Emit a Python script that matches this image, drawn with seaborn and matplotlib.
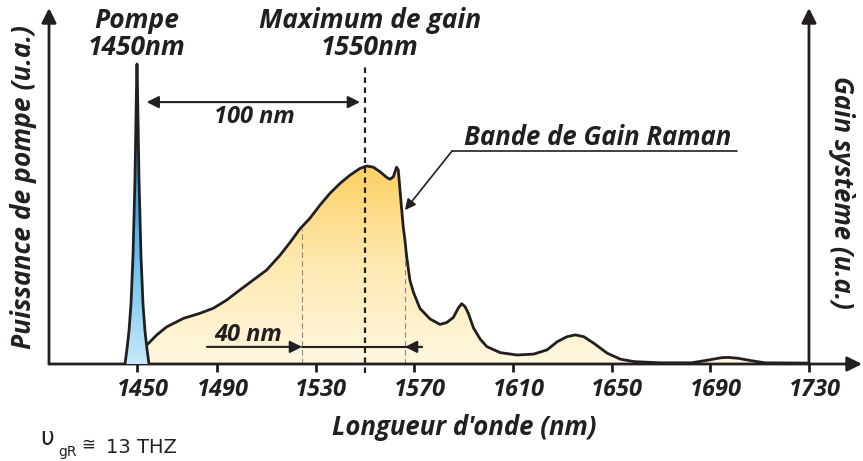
import numpy as np
import matplotlib
matplotlib.use("Agg")
import matplotlib.pyplot as plt
from matplotlib.colors import LinearSegmentedColormap
from matplotlib.transforms import ScaledTranslation
import seaborn as sns

# pump line (wavelength in nm, power in u.a.)
pump_nm = [1444, 1445, 1446, 1447, 1448, 1449, 1449.5, 1449.8, 1450, 1450.2, 1450.5, 1451,
           1452, 1453, 1454, 1455, 1456]
pump_pw = [0.0, 0.05, 0.11, 0.20, 0.36, 0.62, 0.82, 0.94, 1.0, 0.94, 0.82, 0.62,
           0.36, 0.20, 0.11, 0.05, 0.0]

# Raman gain band (wavelength in nm, gain in u.a.)
gain_nm = [1451, 1454, 1459.9, 1464.9, 1473.2, 1481.5, 1488.2, 1493.9, 1499.3, 1504.7,
           1510.1, 1515.5, 1519.6, 1523.6, 1527.7, 1531.8, 1535.8, 1539.9, 1544.0, 1548.0,
           1550.7, 1553.4, 1556.1, 1558.8, 1560.1, 1561.5, 1562.8, 1563.5, 1564.2, 1564.9,
           1565.5, 1566.2, 1566.9, 1568.2, 1569.6, 1572.3, 1576.4, 1580.4, 1583.1, 1585.8,
           1587.8, 1589.2, 1590.6, 1591.9, 1594.0, 1596.7, 1599.4, 1604.8, 1611.6, 1618.4,
           1623.8, 1627.9, 1631.9, 1635.3, 1638.7, 1642.8, 1648.2, 1653.6, 1659.0, 1669.8,
           1682.4, 1689.1, 1694.5, 1697.2, 1701.3, 1706.7, 1712.1, 1729.6]
gain_val = [0.0, 0.057, 0.097, 0.124, 0.152, 0.169, 0.186, 0.213, 0.247, 0.28,
            0.313, 0.362, 0.405, 0.45, 0.486, 0.53, 0.569, 0.602, 0.63, 0.652,
            0.66, 0.656, 0.641, 0.622, 0.616, 0.624, 0.656, 0.647, 0.58, 0.513,
            0.458, 0.413, 0.358, 0.28, 0.24, 0.185, 0.15, 0.132, 0.138, 0.155,
            0.186, 0.201, 0.191, 0.169, 0.12, 0.083, 0.058, 0.038, 0.03, 0.033,
            0.047, 0.074, 0.091, 0.097, 0.091, 0.069, 0.036, 0.016, 0.008, 0.004,
            0.004, 0.013, 0.021, 0.022, 0.019, 0.011, 0.004, 0.003]

tick_nm = [1450, 1490, 1530, 1570, 1610, 1650, 1690, 1730]
tick_labels = ["1450", "1490", "1530", "1570", "1610", "1650", "1690", "1730"]

pump_peak_nm = 1450
gain_peak_nm = 1550
band_edges_nm = [1524.5, 1566.2]

ink = "#231f20"
bold_it = dict(fontweight="bold", style="italic", color=ink)

sns.set_theme(style="white")
plt.rcParams["font.family"] = ["Open Sans", "DejaVu Sans"]

fig = plt.figure(figsize=(8.63, 4.61), dpi=100)
ax = fig.add_axes([49 / 863, 1 - 364 / 461, 813 / 863, 356 / 461])

# the drawing squeezes 1450-1490 a little, like the original schematic
knot_nm = [1300, 1450, 1490, 1900]
knot_u = [-163, 137, 217, 217 + 410 * 2.467]
ax.set_xscale("function", functions=(lambda v: np.interp(v, knot_nm, knot_u),
                                     lambda u: np.interp(u, knot_u, knot_nm)))

# gain band: gradient fill clipped to the curve
gain_cmap = LinearSegmentedColormap.from_list("gain", ["#fff7e0", "#fee9b0", "#fcd063"])
poly = ax.fill_between(gain_nm, 0, gain_val, color="none", lw=0)
grad = np.linspace(0, 1, 256).reshape(-1, 1)
im = ax.imshow(grad, extent=[gain_nm[0], gain_nm[-1], 0, max(gain_val)], origin="lower",
               aspect="auto", cmap=gain_cmap, zorder=1)
im.set_clip_path(poly.get_paths()[0], transform=ax.transData)
sns.lineplot(x=gain_nm, y=gain_val, ax=ax, color=ink, lw=2.0, sort=False, zorder=3)

# pump: blue gradient
pump_cmap = LinearSegmentedColormap.from_list("pump", ["#c6e9fa", "#3fb0e8", "#0a8ad2"])
ppoly = ax.fill_between(pump_nm, 0, pump_pw, color="none", lw=0)
pim = ax.imshow(grad, extent=[pump_nm[0], pump_nm[-1], 0, max(pump_pw)], origin="lower",
                aspect="auto", cmap=pump_cmap, zorder=4)
pim.set_clip_path(ppoly.get_paths()[0], transform=ax.transData)
sns.lineplot(x=pump_nm, y=pump_pw, ax=ax, color=ink, lw=2.0, sort=False, zorder=5)

# dashed guides
ax.plot([gain_peak_nm, gain_peak_nm], [-0.03, 1.003], color=ink, lw=1.6,
        ls=(0, (2.5, 2)), zorder=6, clip_on=False)
ax.plot([band_edges_nm[0]] * 2, [0, 0.45], color="#8a8a8a", lw=0.8, ls=(0, (5, 3)), zorder=2)
ax.plot([band_edges_nm[1]] * 2, [0, 0.37], color="#8a8a8a", lw=0.8, ls=(0, (5, 3)), zorder=2)

arrow = dict(color=ink, lw=1.5, shrinkA=0, shrinkB=0, mutation_scale=18)
# 100 nm
ax.annotate("", xy=(1454.8, 0.873), xytext=(1548, 0.873),
            arrowprops=dict(arrowstyle="<|-|>", **arrow), zorder=7)
ax.text(1505, 0.803, "100 nm", ha="center", va="baseline", fontsize=17, **bold_it)
# 40 nm
ax.annotate("", xy=(band_edges_nm[0], 0.057), xytext=(1485, 0.057),
            arrowprops=dict(arrowstyle="-|>", **arrow), zorder=7)
ax.plot([band_edges_nm[0], 1573], [0.057, 0.057], color=ink, lw=1.5, zorder=7)
ax.annotate("", xy=(band_edges_nm[1], 0.057), xytext=(1573, 0.057),
            arrowprops=dict(arrowstyle="-|>", **arrow), zorder=7)
ax.text(1502.6, 0.077, "40 nm", ha="center", va="baseline", fontsize=17, **bold_it)

# Bande de Gain Raman callout
ax.text(1644.2, 0.73, "Bande de Gain Raman", ha="center", va="baseline", fontsize=18.5,
        **bold_it)
ax.plot([1585.3, 1700.8], [0.71, 0.71], color=ink, lw=1.2, zorder=7)
ax.annotate("", xy=(1566.2, 0.513), xytext=(1585.3, 0.71),
            arrowprops=dict(arrowstyle="-|>", color=ink, lw=1.2, shrinkA=0, shrinkB=0,
                            mutation_scale=16), zorder=7)

# top labels
for x, txt, y in [(pump_peak_nm, "Pompe", 1.12), (pump_peak_nm, "1450nm", 1.03),
                  (1552, "Maximum de gain", 1.12), (1552, "1550nm", 1.03)]:
    ax.text(x, y, txt, ha="center", va="baseline", fontsize=19, **bold_it)

# axes drawn as arrows
ax.set_xlim(1406, 1751.5)
ax.set_ylim(0, 356 / 300)
for s in ax.spines.values():
    s.set_visible(False)
axis_arrow = dict(arrowstyle="-|>", color=ink, lw=2, shrinkA=0, shrinkB=0, mutation_scale=22)
ax.annotate("", xy=(0, 1), xytext=(0, 0), xycoords="axes fraction", arrowprops=axis_arrow)
ax.annotate("", xy=(1, 0), xytext=(0, 0), xycoords="axes fraction", arrowprops=axis_arrow)
ax.annotate("", xy=(1730, 1), xytext=(1730, 0), xycoords=("data", "axes fraction"),
            arrowprops=axis_arrow)

ax.set_xticks(tick_nm)
ax.set_xticklabels(tick_labels, fontsize=17, **bold_it)
ax.set_yticks([])
ax.tick_params(axis="x", direction="out", length=6, width=2, color=ink, pad=4, bottom=True)
for lab in ax.get_xticklabels():
    lab.set_transform(lab.get_transform() + ScaledTranslation(4 / 72, 0, fig.dpi_scale_trans))

fig.text(464 / 863, 1 - 435 / 461, "Longueur d'onde (nm)", ha="center", va="baseline",
         fontsize=18.5, **bold_it)
fig.text(24 / 863, 1 - 187 / 461, "Puissance de pompe (u.a.)", rotation=90, ha="center",
         va="center", fontsize=19, **bold_it)
fig.text(841 / 863, 1 - 192 / 461, "Gain système (u.a.)", rotation=-90, ha="center",
         va="center", fontsize=18.5, **bold_it)

# note under the chart
fig.text(40 / 863, 1 - 445 / 461, "υ", fontsize=17, family="DejaVu Sans", color=ink)
fig.text(58 / 863, 1 - 456 / 461, "gR", fontsize=10, family="DejaVu Sans", color=ink)
fig.text(81 / 863, 1 - 450 / 461, "≅", fontsize=12, family="DejaVu Sans", color=ink)
fig.text(106 / 863, 1 - 453 / 461, "13 THZ", fontsize=14, family="DejaVu Sans", color=ink)

fig.savefig("out.png", dpi=100)
